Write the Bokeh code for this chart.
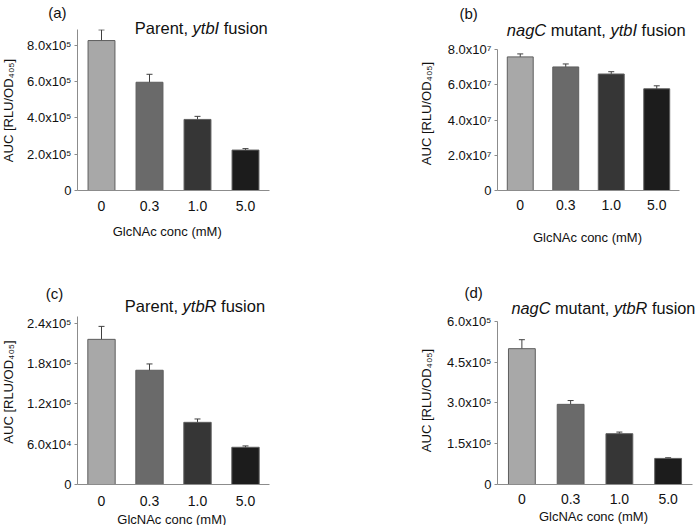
import math
from bokeh.plotting import figure
from bokeh.models import (Range1d, FixedTicker, Label, Whisker, ColumnDataSource, GridBox)
from bokeh.layouts import column, row
from bokeh.embed import file_html
from bokeh.resources import INLINE

# ---------------- data ----------------
categories = ["0", "0.3", "1.0", "5.0"]
bar_colors = ["#a8a8a8", "#6a6a6a", "#363636", "#1c1c1c"]

a_values = [8.27e5, 5.97e5, 3.92e5, 2.23e5]
a_errors = [0.59e5, 0.44e5, 0.17e5, 0.08e5]
a_ticks = [0, 200000, 400000, 600000, 800000]
a_tick_labels = ["0", "2.0x10\u2075", "4.0x10\u2075", "6.0x10\u2075", "8.0x10\u2075"]

b_values = [7.58e7, 7.01e7, 6.61e7, 5.77e7]
b_errors = [0.17e7, 0.17e7, 0.13e7, 0.17e7]
b_ticks = [0, 20000000, 40000000, 60000000, 80000000]
b_tick_labels = ["0", "2.0x10\u2077", "4.0x10\u2077", "6.0x10\u2077", "8.0x10\u2077"]

c_values = [2.16e5, 1.70e5, 9.25e4, 5.54e4]
c_errors = [1.93e4, 0.94e4, 0.50e4, 0.20e4]
c_ticks = [0, 60000, 120000, 180000, 240000]
c_tick_labels = ["0", "6.0x10\u2074", "1.2x10\u2075", "1.8x10\u2075", "2.4x10\u2075"]

d_values = [5.00e5, 2.95e5, 1.87e5, 0.96e5]
d_errors = [0.33e5, 0.14e5, 0.06e5, 0.025e5]
d_ticks = [0, 150000, 300000, 450000, 600000]
d_tick_labels = ["0", "1.5x10\u2075", "3.0x10\u2075", "4.5x10\u2075", "6.0x10\u2075"]

panel_tags = ["(a)", "(b)", "(c)", "(d)"]
panel_titles = [
    [("Parent, ", "normal"), ("ytbI", "italic"), (" fusion", "normal")],
    [("nagC", "italic"), (" mutant, ", "normal"), ("ytbI", "italic"), (" fusion", "normal")],
    [("Parent, ", "normal"), ("ytbR", "italic"), (" fusion", "normal")],
    [("nagC", "italic"), (" mutant, ", "normal"), ("ytbR", "italic"), (" fusion", "normal")],
]
y_title = "AUC [RLU/OD\u2084\u2080\u2085]"
x_title = "GlcNAc conc (mM)"

FONT = "Liberation Sans"
TXT = "#111111"
AXIS = "#8c8c8c"
TOTAL_W, TOTAL_H = 698, 525

# Arial advance widths (per 1000 em)
AW = {"P": 667, "a": 556, "r": 333, "e": 556, "n": 556, "t": 278, ",": 278, " ": 278,
      "y": 500, "b": 556, "I": 278, "R": 722, "f": 278, "u": 556, "s": 500, "i": 222,
      "o": 556, "g": 556, "C": 722, "m": 833}


def tw(s, size):
    return sum(AW.get(ch, 556) for ch in s) * size / 1000.0


def make_chart(values, errors, ticks, tick_labels, y_end, y_axis_top, x_end, x_axis_end,
               size, borders, bar_w, x_standoff):
    W, H = size
    bl, br, bt, bb = borders
    xpos = list(range(1, len(categories) + 1))
    p = figure(width=W, height=H, x_range=Range1d(0.5, x_end), y_range=Range1d(0, y_end),
               output_backend="svg", toolbar_location=None, title=None,
               min_border_left=bl, min_border_right=br, min_border_top=bt, min_border_bottom=bb)
    p.outline_line_color = None
    p.xgrid.visible = False
    p.ygrid.visible = False
    p.background_fill_color = None
    p.border_fill_color = None

    src = ColumnDataSource(dict(x=xpos, top=values, color=bar_colors,
                                upper=[v + e for v, e in zip(values, errors)],
                                lower=[v - e for v, e in zip(values, errors)]))
    p.vbar(x="x", top="top", width=bar_w, source=src, fill_color="color",
           line_color="#5e5e5e", line_width=1)
    wh = Whisker(base="x", upper="upper", lower="lower", source=src,
                 line_color="#404040", line_width=1)
    for head in (wh.upper_head, wh.lower_head):
        head.size = 6
        head.line_color = "#404040"
    p.add_layout(wh)

    xa = p.xaxis[0]
    xa.bounds = (0.5, x_axis_end)
    xa.ticker = FixedTicker(ticks=xpos)
    xa.major_label_overrides = {x: c for x, c in zip(xpos, categories)}
    xa.axis_line_color = AXIS
    xa.major_tick_line_color = None
    xa.minor_tick_line_color = None
    xa.major_label_text_font = FONT
    xa.major_label_text_font_size = "14px"
    xa.major_label_text_color = TXT
    xa.major_label_standoff = x_standoff

    ya = p.yaxis[0]
    ya.bounds = (0, y_axis_top)
    ya.ticker = FixedTicker(ticks=ticks)
    ya.major_label_overrides = {t: lab for t, lab in zip(ticks, tick_labels)}
    ya.axis_line_color = AXIS
    ya.major_tick_line_color = AXIS
    ya.major_tick_out = 3
    ya.major_tick_in = 0
    ya.minor_tick_line_color = None
    ya.major_label_text_font = FONT
    ya.major_label_text_font_size = "13px"
    ya.major_label_text_color = TXT
    ya.major_label_standoff = 3
    return p


# borders are kept equal along each row / column so that aligned frames stay put
pa = make_chart(a_values, a_errors, a_ticks, a_tick_labels, 8.88e5, 8.88e5, 4.5, 4.5,
                (349, 263), (77, 80, 29, 73), 0.56, 4)
pb = make_chart(b_values, b_errors, b_ticks, b_tick_labels, 9.135e7, 8.0e7, 4.786, 4.5,
                (349, 263), (148, 6, 29, 73), 0.57, 3)
pc = make_chart(c_values, c_errors, c_ticks, c_tick_labels, 2.5e5, 2.5e5, 4.5, 4.5,
                (349, 262), (77, 80, 53, 41), 0.57, 5)
pd_ = make_chart(d_values, d_errors, d_ticks, d_tick_labels, 6.184e5, 6.0e5, 4.5, 4.5,
                 (349, 262), (148, 6, 53, 41), 0.55, 3)

charts = column(row(pa, pb), row(pc, pd_))

# ---------------- text layer (page pixel coordinates, y downwards) ----------------
tl = figure(width=TOTAL_W, height=TOTAL_H, x_range=Range1d(0, TOTAL_W),
            y_range=Range1d(TOTAL_H, 0), x_axis_type=None, y_axis_type=None,
            output_backend="svg", toolbar_location=None, title=None, min_border=0)
tl.outline_line_color = None
tl.background_fill_color = "white"
tl.border_fill_color = "white"
tl.xgrid.visible = False
tl.ygrid.visible = False


def lab(X, Y, text, size, **kw):
    tl.add_layout(Label(x=X, y=Y, text=text, text_font=FONT, text_color=TXT,
                        text_font_size=f"{size}px", **kw))


# (tag position, title start & baseline, title size, y-title centre, x-title centre & baseline)
text_layout = [
    ((47.7, 12.2), (134.3, 27.7), 16.5, (7.5, 110), (166.7, 231)),
    ((459.0, 12.5), (506.3, 29.3), 16.5, (425.5, 113), (587.0, 236.6)),
    ((45.3, 293.0), (124.3, 305.7), 16.5, (7.5, 391.5), (171.3, 518.5)),
    ((464.0, 291.5), (511.0, 307.3), 16.3, (426.0, 400), (593.0, 516)),
]

for tag, parts, (tpos, (X0, Yb), tsize, ypos, xpos) in zip(panel_tags, panel_titles, text_layout):
    lab(tpos[0], tpos[1], tag, 15, text_align="left", text_baseline="alphabetic")
    pos = X0
    for txt, style in parts:
        word = txt.strip()
        lead = len(txt) - len(txt.lstrip())
        lab(pos + tw(" " * lead, tsize), Yb, word, tsize, text_font_style=style,
            text_align="left", text_baseline="alphabetic")
        pos += tw(txt, tsize)
    lab(ypos[0], ypos[1], y_title, 13, angle=math.pi / 2,
        text_align="center", text_baseline="middle")
    lab(xpos[0], xpos[1], x_title, 13, text_align="center", text_baseline="alphabetic")

layout = GridBox(children=[(column(tl), 0, 0), (charts, 0, 0)])

with open("out.html", "w") as f:
    f.write(file_html(layout, INLINE))
